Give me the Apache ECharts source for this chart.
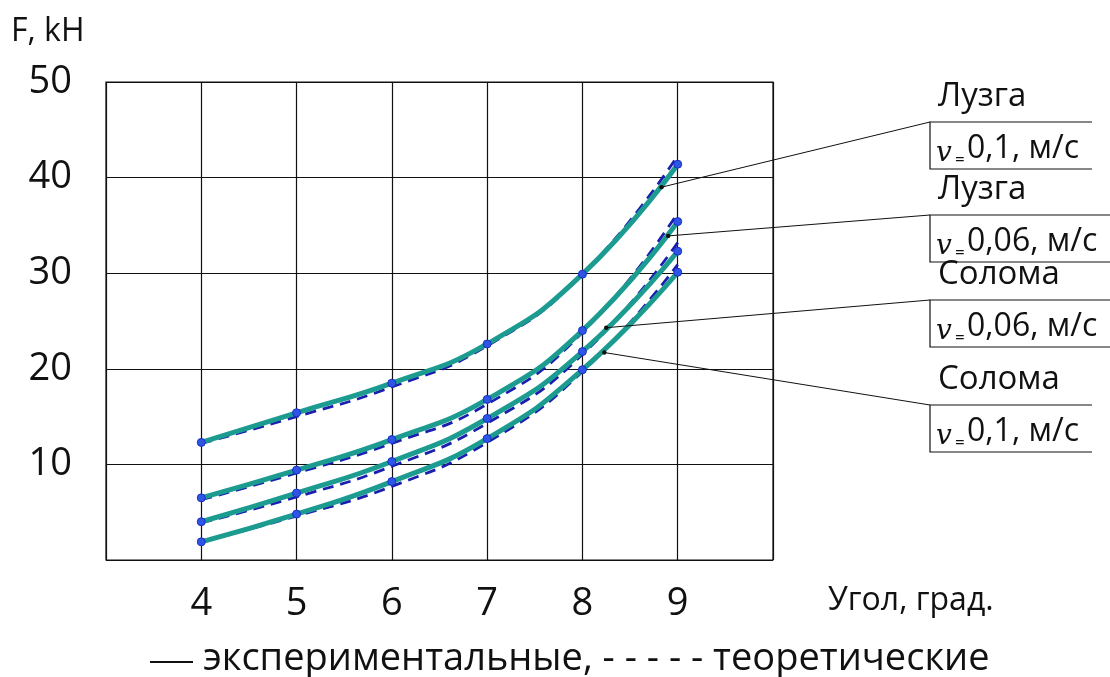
<!DOCTYPE html>
<html>
<head>
<meta charset="utf-8">
<script src="https://cdn.jsdelivr.net/npm/echarts@6/dist/echarts.min.js"></script>
<style>
html,body{margin:0;padding:0;background:#fff;}
#chart{width:1110px;height:677px;}
</style>
</head>
<body>
<div id="chart"></div>
<script>
// ---- data ----
var angles = [4, 5, 6, 7, 8, 9];
var xTickLabels = [4, 5, 6, 7, 8, 9];
var yTickLabels = [10, 20, 30, 40, 50];

var huskExp01    = [12.3, 15.4, 18.5, 22.6, 29.9, 41.4];
var huskTheo01   = [12.2, 15.0, 18.1, 22.4, 29.9, 42.3];
var huskExp006   = [6.5, 9.4, 12.6, 16.8, 24.0, 35.4];
var huskTheo006  = [6.3, 9.1, 12.2, 16.3, 23.8, 36.3];
var strawExp006  = [4.0, 7.0, 10.3, 14.8, 21.8, 32.3];
var strawTheo006 = [3.9, 6.6, 9.8, 14.3, 21.5, 33.2];
var strawExp01   = [1.9, 4.8, 8.2, 12.7, 19.9, 30.1];
var strawTheo01  = [1.9, 4.6, 7.7, 12.3, 19.7, 30.9];

var annoTitles = ['Лузга', 'Лузга', 'Солома', 'Солома'];
var annoSpeeds = ['0,1, м/с', '0,06, м/с', '0,06, м/с', '0,1, м/с'];
var annoX = [8.83, 8.90, 8.25, 8.23];
var annoY = [39.0, 33.9, 24.3, 21.7];

// ---- chart ----
function pairs(ys) { return angles.map(function (a, i) { return [a, ys[i]]; }); }

var TEAL = '#1c9b90';
var DASH = '#1a1fb0';

function expSeries(ys) {
  return {
    type: 'line', data: pairs(ys), smooth: true, z: 3,
    lineStyle: { color: TEAL, width: 5 },
    symbol: 'circle', symbolSize: 8, showSymbol: true,
    itemStyle: { color: '#2e55e6', borderColor: '#1a30c0', borderWidth: 1 }
  };
}
function theoSeries(ys) {
  return {
    type: 'line', data: pairs(ys), smooth: true, z: 2,
    lineStyle: { color: DASH, width: 2.8, type: [11, 7] },
    symbol: 'none'
  };
}

var chart = echarts.init(document.getElementById('chart'), null, { renderer: 'canvas' });
var FONT = 'Open Sans';

var option = {
  animation: false,
  backgroundColor: '#ffffff',
  grid: { left: 106, right: 337, top: 82, bottom: 117, show: true, borderColor: '#111', borderWidth: 1.2 },
  xAxis: {
    type: 'value', min: 3, max: 10, interval: 1,
    axisLine: { show: false }, axisTick: { show: false },
    splitLine: { show: true, lineStyle: { color: '#111', width: 1.2 } },
    axisLabel: {
      margin: 25, color: '#111', fontFamily: FONT, fontSize: 38,
      formatter: function (v) { return xTickLabels.indexOf(v) >= 0 ? String(v) : ''; }
    }
  },
  yAxis: {
    type: 'value', min: 0, max: 50, interval: 10,
    axisLine: { show: false }, axisTick: { show: false },
    splitLine: { show: true, lineStyle: { color: '#111', width: 1.2 } },
    axisLabel: {
      margin: 34, color: '#111', fontFamily: FONT, fontSize: 38,
      formatter: function (v) { return yTickLabels.indexOf(v) >= 0 ? String(v) : ''; }
    }
  },
  series: [
    theoSeries(huskTheo01), theoSeries(huskTheo006), theoSeries(strawTheo006), theoSeries(strawTheo01),
    expSeries(huskExp01), expSeries(huskExp006), expSeries(strawExp006), expSeries(strawExp01)
  ]
};
chart.setOption(option);

// ---- annotations ----
var boxLeft = 930;
var boxTops = [122, 215, 300, 405];
var boxH = 47;
var boxRights = [1092, 1110, 1110, 1092];
var graphics = [];

graphics.push({ type: 'text', left: 11, top: 16, style: { text: 'F, kH', font: '32px "Open Sans"', fill: '#111' } });
graphics.push({ type: 'text', left: 828, top: 585, style: { text: 'Угол, град.', font: '32px "Open Sans"', fill: '#111' } });
graphics.push({ type: 'line', shape: { x1: 150, y1: 662, x2: 193, y2: 662 }, style: { stroke: '#111', lineWidth: 2 } });
graphics.push({ type: 'text', left: 203, top: 640, style: { text: 'экспериментальные, - - - - - теоретические', font: '38px "Open Sans"', fill: '#111' } });

for (var i = 0; i < 4; i++) {
  var p = chart.convertToPixel({ gridIndex: 0 }, [annoX[i], annoY[i]]);
  var t = boxTops[i];
  graphics.push({ type: 'line', z: 10, shape: { x1: p[0], y1: p[1], x2: boxLeft, y2: t }, style: { stroke: '#111', lineWidth: 1 } });
  graphics.push({ type: 'circle', z: 11, shape: { cx: p[0], cy: p[1], r: 2.2 }, style: { fill: '#111' } });
  graphics.push({ type: 'polyline', shape: { points: [[boxRights[i], t], [boxLeft, t], [boxLeft, t + boxH], [boxRights[i], t + boxH]] }, style: { stroke: '#111', lineWidth: 1.2, fill: null } });
  graphics.push({ type: 'text', left: 938, top: t - 42, style: { text: annoTitles[i], font: '33px "Open Sans"', fill: '#111' } });
  graphics.push({ type: 'text', left: 936, top: t + 18, style: { text: 'v', font: 'italic 28px "DejaVu Serif"', fill: '#111' } });
  graphics.push({ type: 'text', left: 955, top: t + 30, style: { text: '=', font: '17px "Open Sans"', fill: '#111' } });
  graphics.push({ type: 'text', left: 967, top: t + 11, style: { text: annoSpeeds[i], font: '32px "Open Sans"', fill: '#111' } });
}
chart.setOption({ graphic: graphics });
</script>
</body>
</html>
